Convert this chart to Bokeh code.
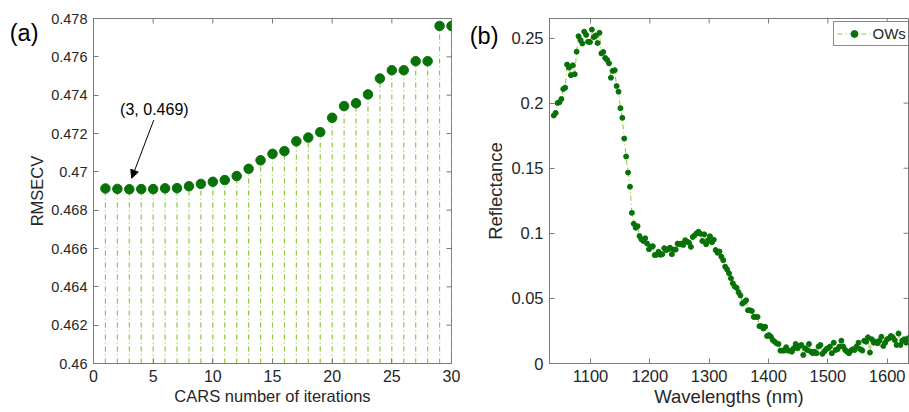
import math
import numpy as np
from bokeh.plotting import figure
from bokeh.layouts import row
from bokeh.models import (FixedTicker, Range1d, Label, Arrow, NormalHead, LinearAxis,
                          NumeralTickFormatter, CustomJSTickFormatter, GlobalInlineStyleSheet)
from bokeh.embed import file_html
from bokeh.resources import INLINE

FONT = "Liberation Sans"
DARK = "#077207"
LIGHT = "#8dc63f"
AXIS = "#7a7a7a"
TEXT = "#262626"

# ---------------- data: panel (a) ----------------
iterations = list(range(1, 31))
rmsecv = [0.46913, 0.46911, 0.46909, 0.46910, 0.46910, 0.46914, 0.46915, 0.46925, 0.46937, 0.46948,
          0.46957, 0.46978, 0.47016, 0.47060, 0.47094, 0.47108, 0.47159, 0.47179, 0.47207, 0.47282,
          0.47343, 0.47358, 0.47404, 0.47487, 0.47530, 0.47530, 0.47577, 0.47577, 0.47761, 0.47761]
rmsecv_ticks = [0.46, 0.462, 0.464, 0.466, 0.468, 0.47, 0.472, 0.474, 0.476, 0.478]
iteration_ticks = [0, 5, 10, 15, 20, 25, 30]
annotation_text = "(3, 0.469)"

# ---------------- data: panel (b) ----------------
wl_first, wl_last = 1038.1, 1635.1
reflectance = [
    0.1905, 0.1925, 0.2001, 0.2007, 0.2032, 0.2108, 0.2119, 0.2296, 0.2273, 0.2215,
    0.2290, 0.2222, 0.2395, 0.2514, 0.2484, 0.2458, 0.2549, 0.2524, 0.2471, 0.2469,
    0.2565, 0.2507, 0.2519, 0.2461, 0.2540, 0.2382, 0.2393, 0.2347, 0.2332, 0.2306,
    0.2195, 0.2248, 0.2253, 0.2131, 0.2088, 0.1961, 0.1887, 0.1728, 0.1590, 0.1467,
    0.1358, 0.1157, 0.1073, 0.1043, 0.1055, 0.0979, 0.0954, 0.0941, 0.0962, 0.0921,
    0.0878, 0.0896, 0.0901, 0.0833, 0.0835, 0.0858, 0.0835, 0.0840, 0.0886, 0.0871,
    0.0878, 0.0890, 0.0840, 0.0875, 0.0875, 0.0921, 0.0916, 0.0921, 0.0911, 0.0947,
    0.0936, 0.0928, 0.0896, 0.0972, 0.0985, 0.1000, 0.1012, 0.0997, 0.0941, 0.0992,
    0.0916, 0.0947, 0.0977, 0.0932, 0.0951, 0.0871, 0.0850, 0.0860, 0.0820, 0.0794,
    0.0744, 0.0723, 0.0693, 0.0655, 0.0616, 0.0591, 0.0581, 0.0548, 0.0523, 0.0460,
    0.0472, 0.0485, 0.0409, 0.0409, 0.0403, 0.0358, 0.0358, 0.0358, 0.0287, 0.0287,
    0.0269, 0.0282, 0.0211, 0.0218, 0.0205, 0.0180, 0.0167, 0.0155, 0.0150, 0.0099,
    0.0099, 0.0099, 0.0125, 0.0099, 0.0099, 0.0091, 0.0117, 0.0150, 0.0117, 0.0135,
    0.0142, 0.0066, 0.0117, 0.0104, 0.0150, 0.0091, 0.0079, 0.0091, 0.0079, 0.0130,
    0.0142, 0.0074, 0.0091, 0.0110, 0.0117, 0.0130, 0.0079, 0.0160, 0.0104, 0.0110,
    0.0130, 0.0175, 0.0130, 0.0104, 0.0091, 0.0079, 0.0099, 0.0110, 0.0104, 0.0130,
    0.0160, 0.0110, 0.0099, 0.0175, 0.0167, 0.0201, 0.0084, 0.0186, 0.0160, 0.0167,
    0.0155, 0.0175, 0.0205, 0.0135, 0.0160, 0.0186, 0.0193, 0.0211, 0.0201, 0.0180,
    0.0142, 0.0231, 0.0142, 0.0175, 0.0186, 0.0160, 0.0193]
wavelengths = np.linspace(wl_first, wl_last, len(reflectance))
wl_ticks = [1100, 1200, 1300, 1400, 1500, 1600]
refl_ticks = [0, 0.05, 0.1, 0.15, 0.2, 0.25]
series_name = "OWs"


def style_axis(ax, ticks, size):
    ax.ticker = FixedTicker(ticks=ticks)
    ax.minor_tick_line_color = None
    ax.major_tick_in = 5
    ax.major_tick_out = 0
    ax.major_tick_line_color = AXIS
    ax.axis_line_color = AXIS
    ax.major_label_text_font = FONT
    ax.major_label_text_color = TEXT
    ax.major_label_text_font_size = size
    ax.major_label_standoff = 6
    ax.axis_label_text_font = FONT
    ax.axis_label_text_font_style = "normal"
    ax.axis_label_text_color = TEXT
    ax.axis_label_standoff = 2


def box_ticks(p, xticks, yticks):
    # inward ticks on the top and right edges of the box (half of each dash is clipped)
    top = [p.y_range.end] * len(xticks)
    right = [p.x_range.end] * len(yticks)
    p.scatter(xticks, top, marker="dash", size=10, angle=math.pi / 2,
              line_color=AXIS, line_width=1)
    p.scatter(right, yticks, marker="dash", size=10, line_color=AXIS, line_width=1)


def panel_tag(p, tag, y, standoff):
    # the "(a)"/"(b)" tag drawn as the single label of an extra, bare left axis
    ax = LinearAxis(ticker=FixedTicker(ticks=[y]),
                    formatter=CustomJSTickFormatter(args=dict(t=tag), code="return t;"),
                    axis_line_color=None, major_tick_line_color=None,
                    minor_tick_line_color=None, major_tick_in=0, major_tick_out=0,
                    major_label_standoff=standoff, major_label_text_font=FONT,
                    major_label_text_font_size="23.5px", major_label_text_color="black")
    p.add_layout(ax, "left")


# ---------------- panel (a) ----------------
p1 = figure(width=465, height=412, x_range=Range1d(0, 30), y_range=Range1d(0.46, 0.478),
            output_backend="svg", toolbar_location=None,
            min_border_left=93, min_border_right=14, min_border_top=18, min_border_bottom=49)
p1.grid.visible = False
p1.outline_line_color = AXIS
style_axis(p1.xaxis[0], iteration_ticks, "16px")
style_axis(p1.yaxis[0], rmsecv_ticks, "14.5px")
p1.yaxis[0].formatter = NumeralTickFormatter(format="0.[000]")
p1.xaxis.axis_label = "CARS number of iterations"
p1.yaxis.axis_label = "RMSECV"
p1.xaxis[0].axis_label_text_font_size = "16.5px"
p1.yaxis[0].axis_label_text_font_size = "16.5px"
panel_tag(p1, "(a)", 0.47723, -13)

p1.segment(x0=iterations, y0=rmsecv_ticks[0], x1=iterations, y1=rmsecv,
           line_color=LIGHT, line_width=1.2, line_dash="5 3 1 3")
p1.scatter(iterations, rmsecv, size=9.5, fill_color=DARK, line_color=DARK)
box_ticks(p1, iteration_ticks, rmsecv_ticks)

p1.add_layout(Label(x=5.1, y=0.47327, text=annotation_text, text_align="center",
                    text_baseline="middle", text_font=FONT, text_font_size="16px",
                    text_color="black"))
p1.add_layout(Arrow(end=NormalHead(size=8, fill_color="black", line_color="black"),
                    x_start=5.05, y_start=0.4727, x_end=3.2, y_end=0.46967,
                    line_color="black", line_width=1))

# ---------------- panel (b) ----------------
p2 = figure(width=444, height=412, x_range=Range1d(1030.9, 1635.9), y_range=Range1d(0, 0.265),
            output_backend="svg", toolbar_location=None,
            min_border_left=84, min_border_right=1, min_border_top=16, min_border_bottom=48)
p2.grid.visible = False
p2.outline_line_color = AXIS
style_axis(p2.xaxis[0], wl_ticks, "16.5px")
style_axis(p2.yaxis[0], refl_ticks, "16.5px")
p2.yaxis[0].formatter = NumeralTickFormatter(format="0.[000]")
p2.xaxis.axis_label = "Wavelengths (nm)"
p2.yaxis.axis_label = "Reflectance"
p2.xaxis[0].axis_label_text_font_size = "18.5px"
p2.yaxis[0].axis_label_text_font_size = "18.5px"
p2.xaxis[0].axis_label_standoff = 1
panel_tag(p2, "(b)", 0.2515, -16)

p2.line(wavelengths, reflectance, line_color=LIGHT, line_width=1, line_dash="5 3 1 3",
        legend_label=series_name)
p2.scatter(wavelengths, reflectance, size=5, fill_color=DARK, line_color=DARK,
           legend_label=series_name)
box_ticks(p2, wl_ticks, refl_ticks)

lg = p2.legend[0]
lg.location = (283.5, 317.5)
lg.padding = 3
lg.margin = 0
lg.spacing = 0
lg.glyph_width = 34
lg.glyph_height = 17
lg.label_height = 17
lg.label_standoff = 2
lg.label_text_font = FONT
lg.label_text_font_size = "15px"
lg.label_text_color = TEXT
lg.border_line_color = "#8c8c8c"
lg.border_line_alpha = 1
lg.border_line_width = 1
lg.background_fill_alpha = 1

layout = row(p1, p2, spacing=0)
layout.stylesheets = [GlobalInlineStyleSheet(css="body { margin: 0 !important; }")]

open("out.html", "w").write(file_html(layout, INLINE))
